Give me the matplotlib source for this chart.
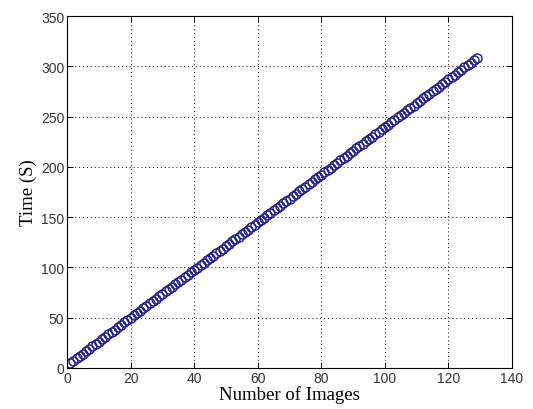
import numpy as np
import matplotlib
matplotlib.use('Agg')
import matplotlib.pyplot as plt

# processing time (s) after each image
time_s = [
    5.0, 7.3, 9.7, 12.1, 14.4, 16.8, 19.2, 21.6, 23.9, 26.3,
    28.7, 31.0, 33.4, 35.8, 38.2, 40.5, 42.9, 45.3, 47.6, 50.0,
    52.4, 54.7, 57.1, 59.5, 61.9, 64.2, 66.6, 69.0, 71.3, 73.7,
    76.1, 78.4, 80.8, 83.2, 85.6, 87.9, 90.3, 92.7, 95.0, 97.4,
    99.8, 102.1, 104.5, 106.9, 109.3, 111.6, 114.0, 116.4, 118.7, 121.1,
    123.5, 125.8, 128.2, 130.6, 133.0, 135.3, 137.7, 140.1, 142.4, 144.8,
    147.2, 149.5, 151.9, 154.3, 156.7, 159.0, 161.4, 163.8, 166.1, 168.5,
    170.9, 173.2, 175.6, 178.0, 180.4, 182.7, 185.1, 187.5, 189.8, 192.2,
    194.6, 196.9, 199.3, 201.7, 204.1, 206.4, 208.8, 211.2, 213.5, 215.9,
    218.3, 220.6, 223.0, 225.4, 227.8, 230.1, 232.5, 234.9, 237.2, 239.6,
    242.0, 244.3, 246.7, 249.1, 251.5, 253.8, 256.2, 258.6, 260.9, 263.3,
    265.7, 268.0, 270.4, 272.8, 275.2, 277.5, 279.9, 282.3, 284.6, 287.0,
    289.4, 291.7, 294.1, 296.5, 298.9, 301.2, 303.6, 306.0, 308.3,
]
n_images = np.arange(1, len(time_s) + 1)

x_ticks = [0, 20, 40, 60, 80, 100, 120, 140]
y_ticks = [0, 50, 100, 150, 200, 250, 300, 350]

fig = plt.figure(figsize=(5.33, 4.10), dpi=100)
ax = fig.add_axes([0.1257, 0.100, 0.835, 0.8585])

ax.plot(n_images, time_s, linestyle='none', marker='o', markersize=6.5,
        markerfacecolor='none', markeredgecolor='#1a1a8c', markeredgewidth=1.0)

ax.set_xlim(0, 140)
ax.set_ylim(0, 350)
ax.set_xticks(x_ticks)
ax.set_yticks(y_ticks)

tick_font = {'family': 'Liberation Sans', 'size': 10}
ax.set_xticklabels([str(v) for v in x_ticks], fontdict=tick_font)
ax.set_yticklabels([str(v) for v in y_ticks], fontdict=tick_font)
ax.tick_params(direction='in', top=True, right=True, length=4, width=0.7,
               pad=2, colors='black')
for lbl in ax.get_xticklabels() + ax.get_yticklabels():
    lbl.set_color('#333333')

ax.grid(True, color='black', linestyle=(0, (1, 3)), linewidth=0.7)
for s in ax.spines.values():
    s.set_linewidth(0.8)

label_font = {'family': 'Liberation Serif', 'size': 13.5}
ax.set_xlabel('Number of Images', fontdict=label_font, labelpad=0)
ax.set_ylabel('Time (S)', fontdict=label_font, labelpad=3)

fig.savefig('out.png', dpi=100)
